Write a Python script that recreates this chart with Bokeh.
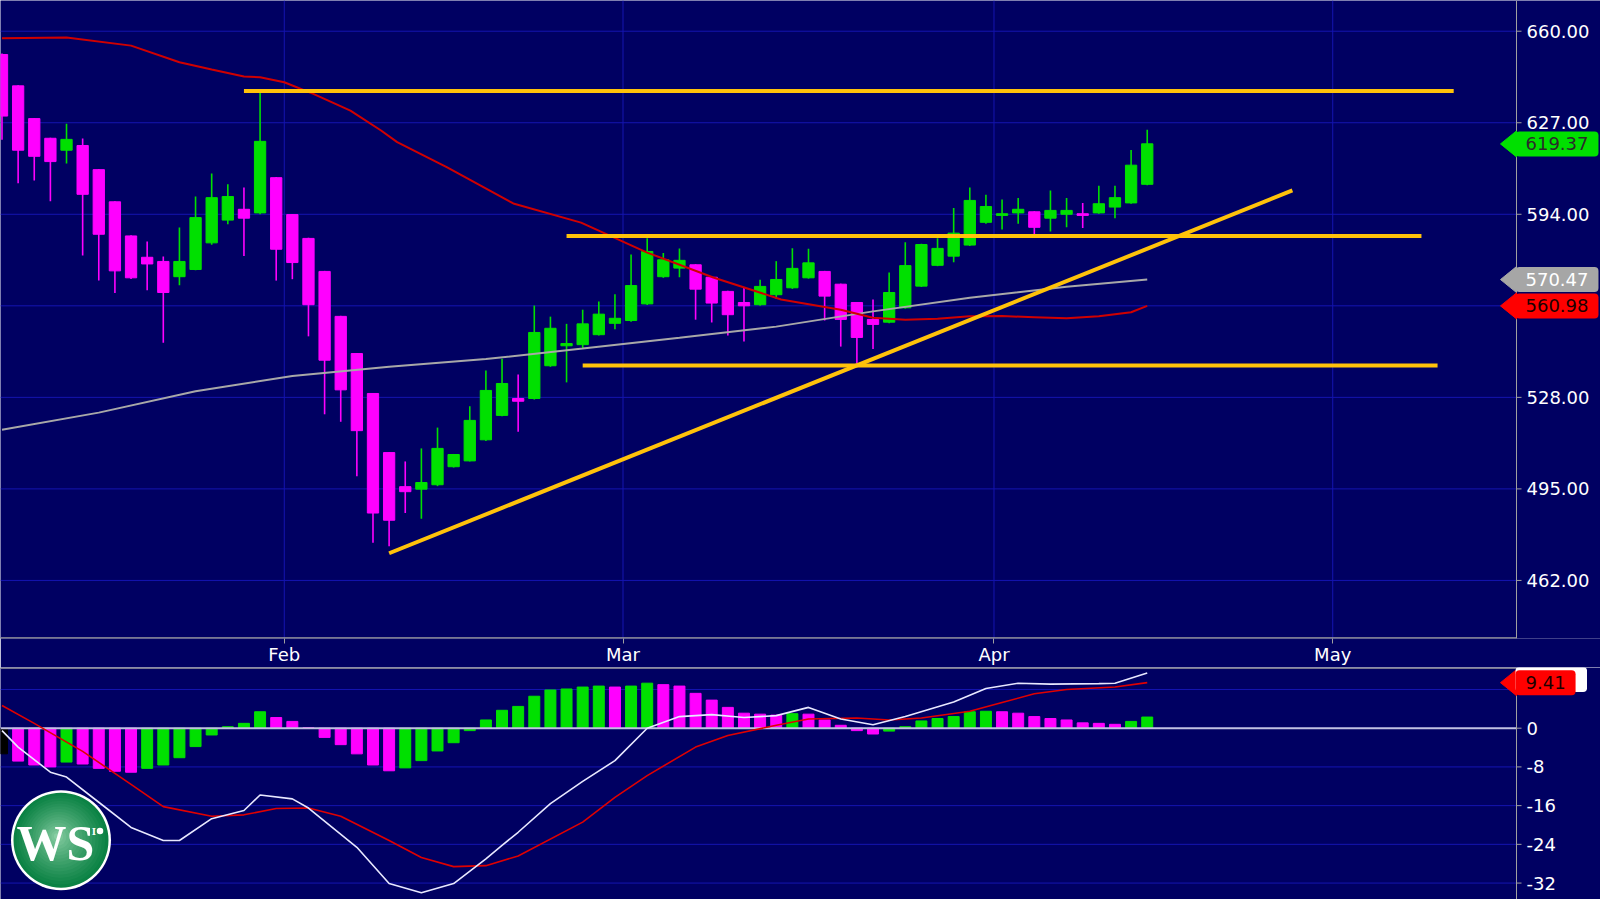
import numpy as np
from bokeh.plotting import figure
from bokeh.models import FixedTicker, Label, Range1d, ColumnDataSource
from bokeh.layouts import column
from bokeh.embed import file_html
from bokeh.resources import INLINE
from bokeh.core.properties import value

# ---------------- data ----------------
idx = list(range(72))
opens = [651.6, 640.3, 628.5, 621.4, 617.1, 618.8, 610.1, 598.5, 586.2, 578.5,
         577.0, 571.5, 574.1, 583.7, 591.9, 595.8, 594.5, 607.2, 593.9, 585.3,
         573.4, 557.2, 543.8, 529.4, 508.1, 495.8, 494.9, 496.5, 503.0, 505.1,
         512.7, 521.5, 527.6, 527.6, 539.4, 546.6, 547.0, 550.6, 554.7, 555.7,
         561.7, 571.5, 574.6, 575.8, 571.3, 566.2, 562.2, 561.4, 565.0, 567.5,
         571.1, 573.4, 568.8, 562.2, 556.1, 555.1, 560.3, 568.1, 575.6, 578.9,
         582.9, 591.1, 593.6, 594.5, 594.9, 592.6, 594.0, 594.2, 594.5, 596.6,
         598.1, 604.8]
highs = [652.0, 640.5, 628.7, 621.6, 626.6, 621.3, 610.3, 598.7, 586.4, 584.2,
         578.8, 589.2, 600.4, 608.7, 604.8, 603.7, 637.8, 607.4, 594.1, 585.5,
         573.6, 557.4, 544.0, 529.6, 508.3, 504.9, 509.6, 517.1, 507.6, 524.8,
         537.7, 541.9, 536.2, 561.1, 557.1, 554.5, 559.6, 562.6, 565.2, 579.5,
         585.4, 580.0, 581.7, 576.0, 571.5, 566.4, 567.5, 570.4, 577.1, 581.8,
         581.6, 573.6, 569.0, 562.4, 563.3, 573.0, 583.9, 583.4, 585.4, 596.3,
         603.7, 601.0, 599.3, 599.9, 595.1, 602.6, 599.9, 598.1, 604.3, 604.3,
         617.2, 624.5]
lows = [620.9, 605.2, 606.2, 598.7, 612.3, 579.1, 570.1, 565.6, 570.7, 566.6,
        547.7, 568.4, 573.8, 583.0, 590.4, 579.0, 594.0, 570.1, 570.6, 550.0,
        521.9, 519.2, 499.6, 475.6, 474.3, 486.3, 484.2, 496.0, 502.7, 504.9,
        512.3, 521.2, 515.6, 527.2, 539.0, 533.4, 545.5, 550.3, 552.6, 555.3,
        561.3, 571.1, 571.3, 556.0, 555.0, 550.3, 548.1, 561.0, 563.5, 567.1,
        570.8, 555.7, 546.3, 540.2, 545.4, 554.7, 560.0, 567.8, 575.3, 576.7,
        582.6, 590.6, 588.5, 590.6, 585.7, 587.8, 589.3, 589.1, 594.2, 592.6,
        597.8, 604.5]
closes = [629.4, 617.1, 614.9, 613.0, 621.0, 601.2, 586.8, 573.6, 571.1, 576.1,
          565.8, 577.0, 592.8, 600.0, 600.4, 592.6, 620.3, 581.4, 576.6, 561.4,
          541.4, 530.7, 516.0, 486.3, 483.7, 494.0, 497.3, 509.6, 507.4, 519.7,
          530.5, 533.0, 526.6, 551.4, 552.9, 547.4, 554.5, 558.0, 556.5, 568.3,
          580.6, 577.6, 577.4, 567.0, 562.0, 557.8, 561.0, 568.0, 570.5, 574.5,
          576.5, 564.5, 556.1, 549.6, 554.3, 565.8, 575.5, 583.1, 581.7, 587.2,
          599.0, 596.8, 594.2, 595.8, 589.3, 595.4, 595.4, 593.6, 597.8, 600.0,
          611.7, 619.4]

ma50_idx = [0, 4, 8, 11, 13, 15, 16, 17.5, 19.3, 21.6, 23.5, 24.5, 27.6, 31.7, 35.9,
            40, 44.1, 48.3, 52, 54, 56, 58, 60, 62, 64, 66, 68, 70, 71]
ma50_val = [657.5, 657.7, 654.8, 648.8, 646.2, 643.7, 643.4, 641.6, 637.4, 631.4, 624.2,
            620.0, 610.9, 597.9, 591.0, 580.2, 571.2, 563.3, 559.6, 556.7, 556.0, 556.3,
            557.2, 557.3, 556.9, 556.5, 557.2, 558.7, 560.98]
ma200_idx = [0, 6, 12, 18, 24, 30, 36, 42, 48, 54, 60, 66, 71]
ma200_val = [516.3, 522.5, 530.2, 535.7, 539.0, 541.8, 545.6, 549.5, 553.5, 559.0, 563.9, 567.9, 570.47]

hist = [-5.3, -6.8, -7.6, -8.0, -7.0, -7.4, -8.3, -8.9, -9.1, -8.3,
        -7.6, -6.1, -3.8, -1.4, 0.3, 1.0, 3.4, 2.2, 1.4, 0.1,
        -1.9, -3.4, -5.3, -7.6, -8.8, -8.2, -6.7, -4.7, -3.0, -0.5,
        1.7, 3.7, 4.5, 6.6, 7.9, 8.1, 8.5, 8.7, 8.5, 8.7,
        9.3, 9.0, 8.7, 7.2, 5.8, 4.3, 3.1, 2.9, 2.7, 3.0,
        2.9, 1.7, 0.6, -0.5, -1.2, -0.6, 0.3, 1.5, 2.0, 2.4,
        3.4, 3.5, 3.4, 3.1, 2.4, 2.0, 1.7, 1.1, 1.0, 0.8,
        1.4, 2.3]
macd_idx = [0, 1, 3, 4, 6, 8, 10, 11, 13, 15, 16, 18, 19, 22, 24, 26, 28, 30, 31, 32,
            34, 36, 38, 40, 42, 44, 46, 48, 50, 52, 54, 56, 59, 61, 63, 65, 68, 69, 71]
macd_val = [-0.5, -3.9, -9.1, -10.1, -15.3, -20.5, -23.2, -23.2, -18.7, -17.0,
            -13.8, -14.6, -16.5, -24.6, -32.1, -34.0, -32.1, -27.0, -24.2, -21.5,
            -15.6, -11.0, -6.7, 0.0, 2.4, 2.8, 2.2, 2.6, 4.3, 1.9,
            0.7, 2.4, 5.4, 8.2, 9.3, 9.1, 9.2, 9.3, 11.42]
sig_idx = [0, 2, 5, 8, 10, 13, 15, 17, 19, 21, 24, 26, 28, 30, 32, 36, 38, 40, 43, 45,
           48, 50, 53, 55, 57, 60, 62, 64, 66, 69, 71]
sig_val = [4.7, 1.0, -4.8, -11.6, -16.2, -18.2, -17.9, -16.6, -16.5, -18.2,
           -23.2, -26.7, -28.6, -28.4, -26.4, -19.4, -14.3, -9.8, -3.9, -1.5,
           0.6, 1.9, 2.1, 1.7, 2.1, 3.5, 5.3, 7.1, 8.0, 8.5, 9.41]

month_names = ["Feb", "Mar", "Apr", "May"]
month_first_idx = [18, 39, 62, 83]
price_ticks = [462, 495, 528, 561, 594, 627, 660]
price_hidden = [561]          # covered by the value tags
macd_ticks = [-32, -24, -16, -8, 0, 8]
macd_hidden = [8]             # covered by the value tag

level_values = [638.4, 586.2, 539.5]
level_start = [15.0, 35.0, 36.0]
level_end = [90.0, 88.0, 89.0]
trend_idx = [24.0, 80.0]
trend_price = [471.8, 602.6]

last_close = 619.37
last_ma200 = 570.47
last_ma50 = 560.98
last_signal = 9.41
last_macd = 11.42

# ---------------- styling / geometry ----------------
BG = "#000062"
GRID = "#1414b0"
AXC = "#a0a0a0"
GREEN = "#00e000"
MAG = "#ff00ff"
YEL = "#ffc20a"
FONT = "DejaVu Sans"
W = 1600
PH, XB, MH = 638, 29, 232
AX_PX = 1516
PXU = 16.13                      # pixels per trading day
X0 = -1.5 / PXU
X1 = X0 + W / PXU
P0, P1 = 441.07, 671.07
M_TOP = PH + XB
M1 = 12.54
M0 = M1 - MH / 4.84


def sx(px):
    return X0 + px / PXU


def sp(py):
    return P1 - py * (P1 - P0) / PH


def sm(py):
    return M1 - (py - M_TOP) * (M1 - M0) / MH


xr = Range1d(X0, X1)

# ---------------- price panel ----------------
p = figure(frame_width=W, frame_height=PH, x_range=xr, y_range=Range1d(P0, P1),
           y_axis_location=None, output_backend="svg", toolbar_location=None,
           min_border_left=0, min_border_top=0, min_border_right=0, min_border_bottom=XB,
           background_fill_color=BG, border_fill_color=BG, outline_line_color=None)
p.grid.visible = False
xax = p.xaxis[0]
xax.axis_line_color = None
xax.major_tick_line_color = AXC
xax.minor_tick_line_color = None
xax.major_tick_out = 5
xax.major_tick_in = 0
xax.major_label_standoff = 0
xax.major_label_text_color = "white"
xax.major_label_text_font = FONT
xax.major_label_text_font_size = "18px"
month_ticks = [i - 0.5 for i in month_first_idx]
xax.ticker = FixedTicker(ticks=month_ticks)
xax.major_label_overrides = {t: n for t, n in zip(month_ticks, month_names)}

ax_x = sx(AX_PX)
# grid
p.segment(x0=X0, x1=ax_x, y0=price_ticks, y1=price_ticks, line_color=GRID, line_width=1)
p.segment(x0=month_ticks, x1=month_ticks, y0=P0, y1=P1, line_color=GRID, line_width=1)

# candles
colors = [GREEN if c >= o else MAG for o, c in zip(opens, closes)]
src = ColumnDataSource(dict(x=idx, h=highs, l=lows,
                            top=np.maximum(opens, closes), bot=np.minimum(opens, closes),
                            color=colors))
p.segment("x", "h", "x", "l", source=src, line_color="color", line_width=1.6)
p.vbar(x="x", width=0.7, top="top", bottom="bot", source=src,
       fill_color="color", line_color="color", line_width=1)

p.line(ma200_idx, ma200_val, line_color="#a8a8a8", line_width=2)
p.line(ma50_idx, ma50_val, line_color="#d00000", line_width=2)

p.segment(x0=level_start, y0=level_values, x1=level_end, y1=level_values,
          line_color=YEL, line_width=4)
p.line(trend_idx, trend_price, line_color=YEL, line_width=4)

# right price axis (drawn by hand so that the value tags can overlap it)
p.segment(x0=[ax_x], x1=[ax_x], y0=[P0], y1=[P1], line_color=AXC, line_width=1)
p.segment(x0=X0, x1=ax_x, y0=sp(637.4), y1=sp(637.4), line_color=AXC, line_width=1.5)
p.segment(x0=ax_x, x1=sx(AX_PX + 5), y0=price_ticks, y1=price_ticks, line_color=AXC, line_width=1)
shown_p = [t for t in price_ticks if t not in price_hidden]
p.text(x=[sx(AX_PX + 10)] * len(shown_p), y=shown_p, text=[f"{t:.2f}" for t in shown_p],
       text_font=value(FONT), text_font_size="18px", text_color="white",
       text_align="left", text_baseline="middle")

# last-value tags
dy_p = 13 * (P1 - P0) / PH
PAD = dict(left=10, right=10, top=6, bottom=6)
for val, bg, fg in [(last_close, "#00e000", "#2b2b2b"),
                    (last_ma200, "#a6a6a6", "#ffffff"),
                    (last_ma50, "#ff0000", "#1a0000")]:
    p.patch([sx(1500), sx(1516), sx(1516)], [val, val + dy_p, val - dy_p],
            fill_color=bg, line_color=bg)
    p.add_layout(Label(x=sx(1515), y=val, text=f"{val:.2f}", text_font=FONT,
                       text_font_size="18px", text_color=fg, text_align="left",
                       text_baseline="middle", background_fill_color=bg,
                       padding=PAD, border_radius=4))

# ---------------- MACD panel ----------------
m = figure(frame_width=W, frame_height=MH, x_range=xr, y_range=Range1d(M0, M1),
           y_axis_location=None, x_axis_location=None, output_backend="svg",
           toolbar_location=None, min_border_left=0, min_border_top=0, min_border_right=0,
           min_border_bottom=0, background_fill_color=BG, border_fill_color=BG,
           outline_line_color=None)
m.grid.visible = False
m.segment(x0=X0, x1=ax_x, y0=macd_ticks, y1=macd_ticks, line_color=GRID, line_width=1)

hcolors = ["#000000"] + [GREEN if hist[i] >= hist[i - 1] else MAG for i in range(1, len(hist))]
m.vbar(x=idx, width=0.68, top=hist, bottom=0, fill_color=hcolors, line_color=hcolors)
m.segment(x0=[X0], x1=[ax_x], y0=[0], y1=[0], line_color="#c0c0e0", line_width=2)
m.line(sig_idx, sig_val, line_color="#e00000", line_width=1.6)
m.line(macd_idx, macd_val, line_color="#e8e8ff", line_width=1.6)

# axis
m.segment(x0=[X0], x1=[ax_x], y0=[sm(667.6)], y1=[sm(667.6)], line_color=AXC, line_width=1.5)
m.segment(x0=[ax_x], x1=[ax_x], y0=[M0], y1=[sm(667.6)], line_color=AXC, line_width=1)
m.segment(x0=ax_x, x1=sx(AX_PX + 5), y0=macd_ticks, y1=macd_ticks, line_color=AXC, line_width=1)
shown_m = [t for t in macd_ticks if t not in macd_hidden]
m.text(x=[sx(AX_PX + 10)] * len(shown_m), y=shown_m, text=[str(t) for t in shown_m],
       text_font=value(FONT), text_font_size="18px", text_color="white",
       text_align="left", text_baseline="middle")

# MACD tags (white one mostly hidden behind the red one)
dy_m = 13 * (M1 - M0) / MH
m.add_layout(Label(x=sx(1515), y=sm(679), text=f"{last_macd:.2f}", text_font=FONT,
                   text_font_size="18px", text_color="#ffffff", text_align="left",
                   text_baseline="middle", background_fill_color="#ffffff",
                   padding=PAD, border_radius=4))
m.patch([sx(1500), sx(1516), sx(1516)],
        [last_signal, last_signal + dy_m, last_signal - dy_m],
        fill_color="#ff0000", line_color="#ff0000")
m.add_layout(Label(x=sx(1515), y=last_signal, text=f"{last_signal:.2f}", text_font=FONT,
                   text_font_size="18px", text_color="#1a0000", text_align="left",
                   text_baseline="middle", background_fill_color="#ff0000",
                   padding=PAD, border_radius=4))

# logo
cx, cy = sx(60.5), sm(839.7)
m.scatter([cx], [cy], size=100, fill_color="#ffffff", line_color=None)
edge = np.array([11, 130, 68])
centre = np.array([136, 206, 164])
n_layers = 16
for k in range(n_layers):
    t = k / (n_layers - 1)
    s = 95 * (1 - t) + 6 * t
    c = edge * (1 - t) ** 0.8 + centre * (1 - (1 - t) ** 0.8)
    col = "#%02x%02x%02x" % tuple(int(v) for v in c)
    m.scatter([cx - 0.25 * t], [cy + 0.8 * t], size=s, fill_color=col, line_color=None)
m.add_layout(Label(x=sx(55), y=sm(842), text="WS", text_font="Liberation Serif",
                   text_font_style="bold", text_font_size="50px", text_color="white",
                   text_align="center", text_baseline="middle"))
m.add_layout(Label(x=sx(93.5), y=sm(830.5), text="I", text_font="Liberation Serif",
                   text_font_style="bold", text_font_size="11px", text_color="white",
                   text_align="center", text_baseline="middle"))
m.scatter([sx(99.5)], [sm(830.5)], size=6.5, fill_color="white", line_color=None)

layout = column(p, m, spacing=0)
open("out.html", "w").write(file_html(layout, INLINE))
